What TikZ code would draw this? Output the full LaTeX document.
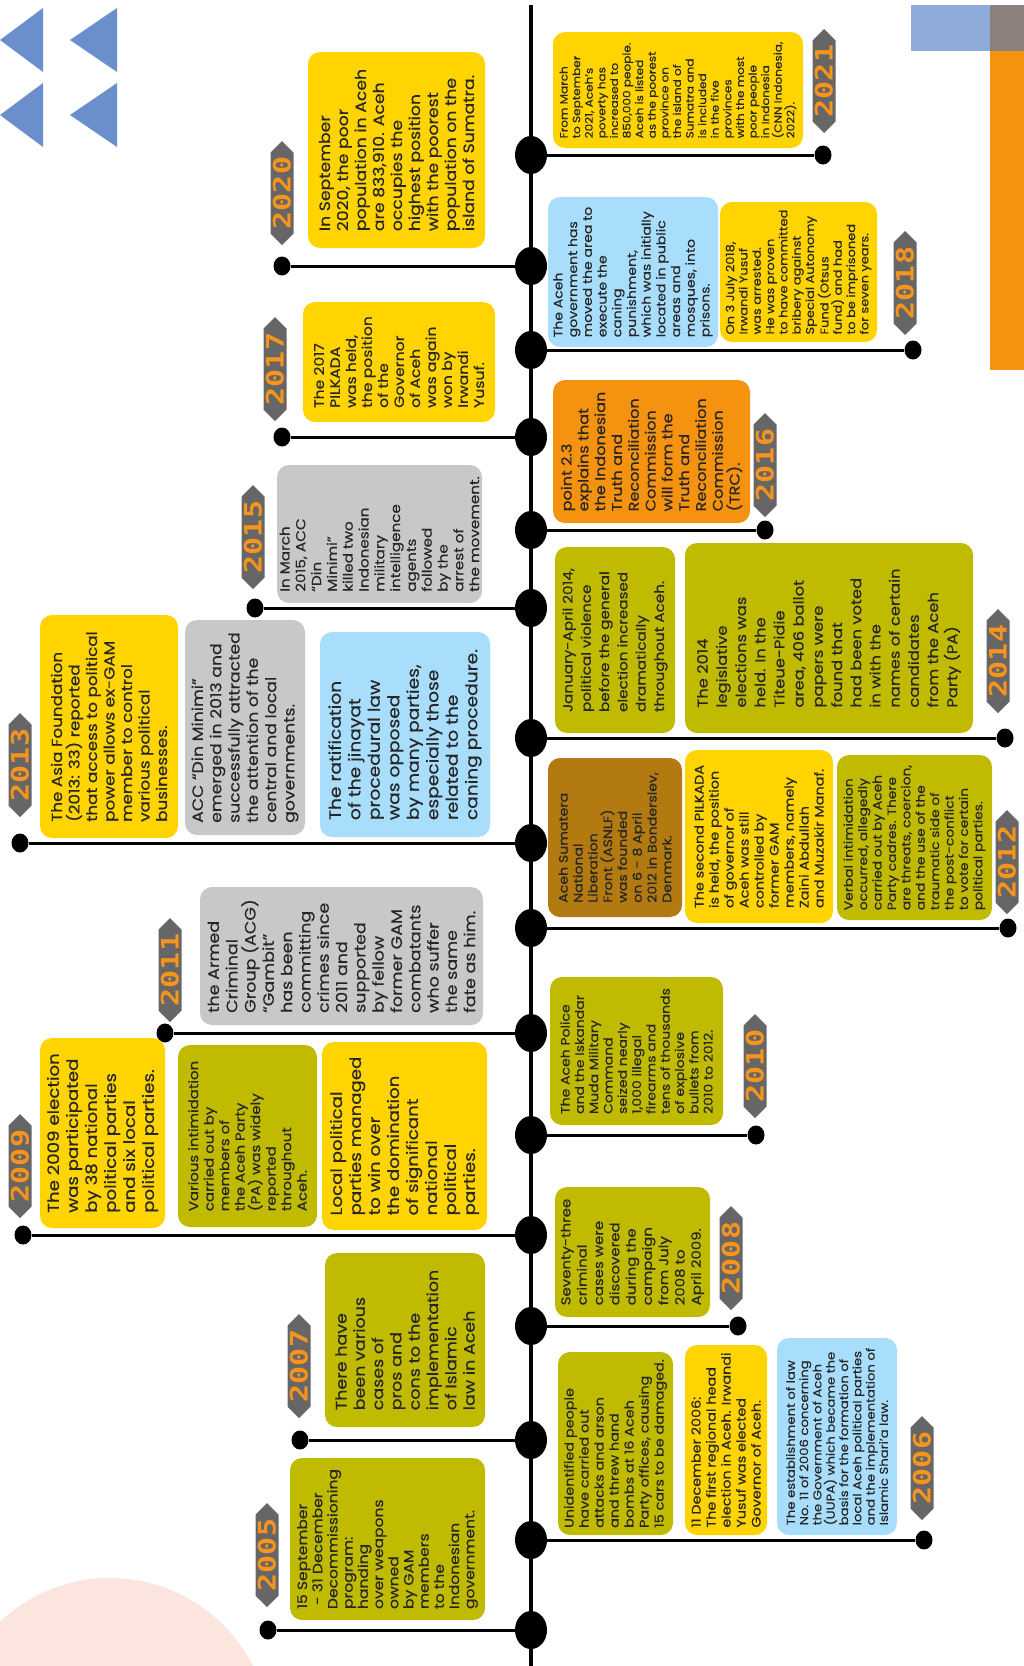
\documentclass[tikz,border=0pt]{standalone}
\usepackage{fontspec}
\setmainfont{Poppins}[FakeStretch=1.15, FakeBold=0.3]
\newfontfamily\yearfont{DejaVu Sans Mono}[FakeStretch=1.25]
\usetikzlibrary{shapes.geometric,shapes.symbols}

\definecolor{cardyellow}{HTML}{FFD400}
\definecolor{cardolive}{HTML}{C0BB00}
\definecolor{cardblue}{HTML}{A8DDFB}
\definecolor{cardgray}{HTML}{C8C8C8}
\definecolor{cardorange}{HTML}{F5920F}
\definecolor{cardbrown}{HTML}{B27A10}
\definecolor{yeargray}{HTML}{666666}
\definecolor{yearorange}{HTML}{F7941D}
\definecolor{triblue}{HTML}{6A8FCC}
\definecolor{cornerblue}{HTML}{8EABDA}
\definecolor{cornergray}{HTML}{8C807C}
\definecolor{pinkdisc}{HTML}{FDE5DF}

\begin{document}
\begin{tikzpicture}[x=1pt, y=-1pt,
card/.style={rectangle, rounded corners=12pt, rotate=90, align=left, inner sep=0pt, text=black!85},
year_tag/.style={signal, signal to=east and west, fill=yeargray, rotate=90, minimum width=104pt, minimum height=23pt, inner sep=0pt, text=yearorange, font=\yearfont\bfseries\fontsize{24}{24}\selectfont},
big_dot/.style={ellipse, fill=black, minimum width=32pt, minimum height=38pt, inner sep=0pt},
small_dot/.style={ellipse, fill=black, minimum width=17pt, minimum height=19pt, inner sep=0pt},
spine/.style={line width=4.5pt},
link/.style={line width=3pt},
]
\useasboundingbox (0,0) rectangle (1024,1666);
\clip (0,0) rectangle (1024,1666);

% decorations in the corners
\fill[triblue] (0,40) -- (43,8) -- (43,72) -- cycle;
\fill[triblue] (70,40) -- (117,8) -- (117,72) -- cycle;
\fill[triblue] (0,115) -- (43,83) -- (43,147) -- cycle;
\fill[triblue] (70,115) -- (117,83) -- (117,147) -- cycle;
\fill[cornerblue] (911,5) rectangle (990,51);
\fill[cornergray] (990,5) rectangle (1024,51);
\fill[cardorange] (990,51) rectangle (1024,370);
\fill[pinkdisc] (110,1738) circle [radius=160pt];

% the spine
\coordinate (spine_top) at (531,5);
\coordinate (spine_bottom) at (531,1666);
\draw[spine] (spine_top) -- (spine_bottom);

% \node[big_dot](dot_year) on the spine, \node[small_dot](end_year) at the free end
\node[big_dot](dot_2021) at (531,155) {};
\node[big_dot](dot_2020) at (531,266) {};
\node[big_dot](dot_2018) at (531,350) {};
\node[big_dot](dot_2017) at (531,437) {};
\node[big_dot](dot_2016) at (531,530) {};
\node[big_dot](dot_2015) at (531,608) {};
\node[big_dot](dot_2014) at (531,738) {};
\node[big_dot](dot_2013) at (531,843) {};
\node[big_dot](dot_2012) at (531,928) {};
\node[big_dot](dot_2011) at (531,1033) {};
\node[big_dot](dot_2010) at (531,1135) {};
\node[big_dot](dot_2009) at (531,1235) {};
\node[big_dot](dot_2008) at (531,1326) {};
\node[big_dot](dot_2007) at (531,1440) {};
\node[big_dot](dot_2006) at (531,1540) {};
\node[big_dot](dot_2005) at (531,1630) {};

\node[small_dot](end_2021) at (823,155) {};
\node[small_dot](end_2020) at (282,266) {};
\node[small_dot](end_2018) at (913,350) {};
\node[small_dot](end_2017) at (282,437) {};
\node[small_dot](end_2016) at (765,530) {};
\node[small_dot](end_2015) at (255,608) {};
\node[small_dot](end_2014) at (1005,738) {};
\node[small_dot](end_2013) at (20,843) {};
\node[small_dot](end_2012) at (1008,928) {};
\node[small_dot](end_2011) at (165,1033) {};
\node[small_dot](end_2010) at (756,1135) {};
\node[small_dot](end_2009) at (23,1235) {};
\node[small_dot](end_2008) at (738,1326) {};
\node[small_dot](end_2007) at (300,1440) {};
\node[small_dot](end_2006) at (924,1540) {};
\node[small_dot](end_2005) at (268,1630) {};

\draw[link] (dot_2021) -- (end_2021);
\draw[link] (dot_2020) -- (end_2020);
\draw[link] (dot_2018) -- (end_2018);
\draw[link] (dot_2017) -- (end_2017);
\draw[link] (dot_2016) -- (end_2016);
\draw[link] (dot_2015) -- (end_2015);
\draw[link] (dot_2014) -- (end_2014);
\draw[link] (dot_2013) -- (end_2013);
\draw[link] (dot_2012) -- (end_2012);
\draw[link] (dot_2011) -- (end_2011);
\draw[link] (dot_2010) -- (end_2010);
\draw[link] (dot_2009) -- (end_2009);
\draw[link] (dot_2008) -- (end_2008);
\draw[link] (dot_2007) -- (end_2007);
\draw[link] (dot_2006) -- (end_2006);
\draw[link] (dot_2005) -- (end_2005);

% year tags
\node[year_tag](year_2021) at (824,81) {2021};
\node[year_tag](year_2020) at (282,193) {2020};
\node[year_tag](year_2018) at (905,283) {2018};
\node[year_tag](year_2017) at (275,369) {2017};
\node[year_tag](year_2016) at (765,465) {2016};
\node[year_tag](year_2015) at (253,537) {2015};
\node[year_tag](year_2014) at (998,661) {2014};
\node[year_tag](year_2013) at (20,765) {2013};
\node[year_tag](year_2012) at (1007,862) {2012};
\node[year_tag](year_2011) at (170,970) {2011};
\node[year_tag](year_2010) at (755,1066) {2010};
\node[year_tag](year_2009) at (20,1166) {2009};
\node[year_tag](year_2008) at (731,1258) {2008};
\node[year_tag](year_2007) at (299,1366) {2007};
\node[year_tag](year_2006) at (922,1468) {2006};
\node[year_tag](year_2005) at (267,1555) {2005};

% cards, right of the spine
\node[card, fill=cardyellow, minimum width=116pt, minimum height=250pt, font=\fontsize{10.5}{12.6}\selectfont](box_2021) at (678,90)
{From March\\to September\\2021, Aceh’s\\poverty has\\increased to\\850,000 people.\\Aceh is listed\\as the poorest\\province on\\the island of\\Sumatra and\\is included\\in the five\\provinces\\with the most\\poor people\\in Indonesia\\(CNN Indonesia,\\2022).};
\node[card, fill=cardblue, minimum width=150pt, minimum height=170pt, font=\fontsize{12.2}{14.7}\selectfont](box_2018_one) at (633,272)
{The Aceh\\government has\\moved the area to\\execute the\\caning\\punishment,\\which was initially\\located in public\\areas and\\mosques, into\\prisons.};
\node[card, fill=cardyellow, minimum width=140pt, minimum height=157pt, font=\fontsize{11.3}{13.3}\selectfont](box_2018_two) at (798.5,272)
{On 3 July 2018,\\Irwandi Yusuf\\was arrested.\\He was proven\\to have committed\\bribery against\\Special Autonomy\\Fund (Otsus\\fund) and had\\to be imprisoned\\for seven years.};
\node[card, fill=cardorange, minimum width=143pt, minimum height=197pt, font=\fontsize{14}{16.8}\selectfont](box_2016) at (651.5,451.5)
{point 2.3\\explains that\\the Indonesian\\Truth and\\Reconciliation\\Commission\\will form the\\Truth and\\Reconciliation\\Commission\\(TRC).};
\node[card, fill=cardolive, minimum width=186pt, minimum height=120pt, font=\fontsize{13.2}{18.3}\selectfont](box_2014_one) at (615,640)
{January-April 2014,\\political violence\\before the general\\election increased\\dramatically\\throughout Aceh.};
\node[card, fill=cardolive, minimum width=190pt, minimum height=288pt, font=\fontsize{14.2}{19.2}\selectfont](box_2014_two) at (829,638)
{The 2014\\legislative\\elections was\\held. In the\\Titeue-Pidie\\area, 406 ballot\\papers were\\found that\\had been voted\\in with the\\names of certain\\candidates\\from the Aceh\\Party (PA)};
\node[card, fill=cardbrown, minimum width=159pt, minimum height=134pt, font=\fontsize{12.3}{14.8}\selectfont](box_2012_one) at (615,837.5)
{Aceh Sumatera\\National\\Liberation\\Front (ASNLF)\\was founded\\on 6 - 8 April\\2012 in Bonderslev,\\Denmark.};
\node[card, fill=cardyellow, minimum width=173pt, minimum height=148pt, font=\fontsize{12.5}{15}\selectfont](box_2012_two) at (759,836.5)
{The second PILKADA\\is held, the position\\of governor of\\Aceh was still\\controlled by\\former GAM\\members, namely\\Zaini Abdullah\\and Muzakir Manaf.};
\node[card, fill=cardolive, minimum width=165pt, minimum height=155pt, font=\fontsize{12}{14.4}\selectfont](box_2012_three) at (914.5,837.5)
{Verbal intimidation\\occurred, allegedly\\carried out by Aceh\\Party cadres. There\\are threats, coercion,\\and the use of the\\traumatic side of\\the post-conflict\\to vote for certain\\political parties.};
\node[card, fill=cardolive, minimum width=148pt, minimum height=173pt, font=\fontsize{12.2}{14.3}\selectfont](box_2010) at (636.5,1051)
{The Aceh Police\\and the Iskandar\\Muda Military\\Command\\seized nearly\\1,000 illegal\\firearms and\\tens of thousands\\of explosive\\bullets from\\2010 to 2012.};
\node[card, fill=cardolive, minimum width=130pt, minimum height=155pt, font=\fontsize{13}{16.3}\selectfont](box_2008) at (632.5,1252)
{Seventy-three\\criminal\\cases were\\discovered\\during the\\campaign\\from July\\2008 to\\April 2009.};
\node[card, fill=cardolive, minimum width=183pt, minimum height=115pt, font=\fontsize{12.5}{15}\selectfont](box_2006_one) at (615.5,1443.5)
{Unidentified people\\have carried out\\attacks and arson\\and threw hand\\bombs at 16 Aceh\\Party offices, causing\\15 cars to be damaged.};
\node[card, fill=cardyellow, minimum width=190pt, minimum height=82pt, font=\fontsize{12.5}{15}\selectfont](box_2006_two) at (726,1440)
{11 December 2006:\\The first regional head\\election in Aceh. Irwandi\\Yusuf was elected\\Governor of Aceh.};
\node[card, fill=cardblue, minimum width=197pt, minimum height=120pt, font=\fontsize{11.5}{13.3}\selectfont](box_2006_three) at (837,1436.5)
{The establishment of law\\No. 11 of 2006 concerning\\the Government of Aceh\\(UUPA) which became the\\basis for the formation of\\local Aceh political parties\\and the implementation of\\Islamic Shari’a law.};

% cards, left of the spine
\node[card, fill=cardyellow, minimum width=196pt, minimum height=177pt, font=\fontsize{15}{18}\selectfont](box_2020) at (396.5,150)
{In September\\2020, the poor\\population in Aceh\\are 833,910. Aceh\\occupies the\\highest position\\with the poorest\\population on the\\island of Sumatra.};
\node[card, fill=cardyellow, minimum width=120pt, minimum height=192pt, font=\fontsize{13.6}{16}\selectfont](box_2017) at (399,362)
{The 2017\\PILKADA\\was held,\\the position\\of the\\Governor\\of Aceh\\was again\\won by\\Irwandi\\Yusuf.};
\node[card, fill=cardgray, minimum width=138pt, minimum height=205pt, font=\fontsize{13.2}{15.8}\selectfont](box_2015) at (379.5,534)
{In March\\2015, ACC\\“Din\\Minimi”\\killed two\\Indonesian\\military\\intelligence\\agents\\followed\\by the\\arrest of\\the movement.};
\node[card, fill=cardyellow, minimum width=223pt, minimum height=138pt, font=\fontsize{14.6}{17.5}\selectfont](box_2013_one) at (109,726.5)
{The Asia Foundation\\(2013: 33) reported\\that access to political\\power allows ex-GAM\\member to control\\various political\\businesses.};
\node[card, fill=cardgray, minimum width=215pt, minimum height=120pt, font=\fontsize{15}{18.3}\selectfont](box_2013_two) at (245,727.5)
{ACC “Din Minimi”\\emerged in 2013 and\\successfully attracted\\the attention of the\\central and local\\governments.};
\node[card, fill=cardblue, minimum width=205pt, minimum height=170pt, font=\fontsize{16.2}{19.5}\selectfont](box_2013_three) at (405,734.5)
{The ratification\\of the jinayat\\procedural law\\was opposed\\by many parties,\\especially those\\related to the\\caning procedure.};
\node[card, fill=cardgray, minimum width=138pt, minimum height=283pt, font=\fontsize{15.2}{18.3}\selectfont](box_2011) at (341.5,956)
{the Armed\\Criminal\\Group (ACG)\\“Gambit”\\has been\\committing\\crimes since\\2011 and\\supported\\by fellow\\former GAM\\combatants\\who suffer\\the same\\fate as him.};
\node[card, fill=cardyellow, minimum width=190pt, minimum height=125pt, font=\fontsize{15.8}{19}\selectfont](box_2009_one) at (102.5,1133)
{The 2009 election\\was participated\\by 38 national\\political parties\\and six local\\political parties.};
\node[card, fill=cardolive, minimum width=182pt, minimum height=139pt, font=\fontsize{13}{15.5}\selectfont](box_2009_two) at (247.5,1136)
{Various intimidation\\carried out by\\members of\\the Aceh Party\\(PA) was widely\\reported\\throughout\\Aceh.};
\node[card, fill=cardyellow, minimum width=188pt, minimum height=165pt, font=\fontsize{15.8}{19}\selectfont](box_2009_three) at (404.5,1136)
{Local political\\parties managed\\to win over\\the domination\\of significant\\national\\political\\parties.};
\node[card, fill=cardolive, minimum width=174pt, minimum height=160pt, font=\fontsize{15.2}{18.3}\selectfont](box_2007) at (405,1340)
{There have\\been various\\cases of\\pros and\\cons to the\\implementation\\of Islamic\\law in Aceh};
\node[card, fill=cardolive, minimum width=162pt, minimum height=195pt, font=\fontsize{13.5}{15.2}\selectfont](box_2005) at (387.5,1539)
{15 September\\\hspace*{0.3em}- 31 December\\Decommissioning\\program:\\handing\\over weapons\\owned\\by GAM\\members\\to the\\Indonesian\\government.};

\end{tikzpicture}
\end{document}
